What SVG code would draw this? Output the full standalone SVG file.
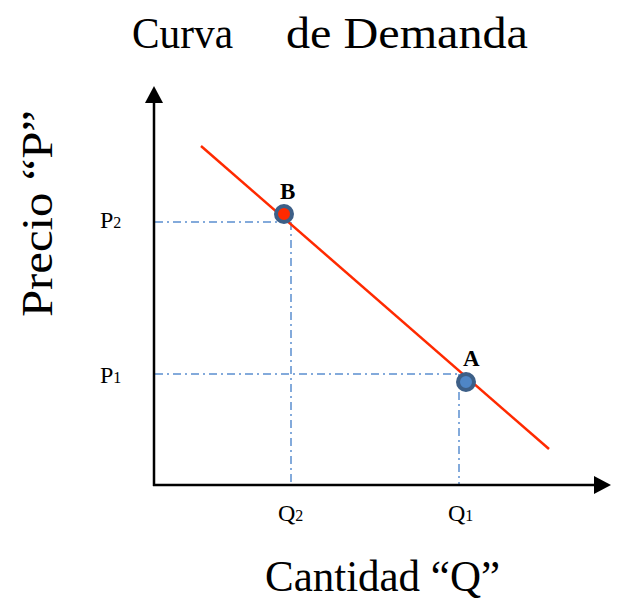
<svg xmlns="http://www.w3.org/2000/svg" width="618" height="603" viewBox="0 0 618 603">
<style>
.t{font-family:"Liberation Serif","DejaVu Serif",serif;fill:#000}
.big{font-size:45px}
.lab{font-size:24px}
.sub{font-size:16px}
.pt{font-size:23px;font-weight:bold}
.axis{stroke:#000;stroke-width:2.5;fill:none}
.guide{stroke:#5b8fd0;stroke-width:1.5;stroke-dasharray:8,4,2,4;fill:none}
.curve{stroke:#ff2a00;stroke-width:2.5}
</style>
<rect width="618" height="603" fill="#fff"/>
<g id="title">
<text class="t big" x="132" y="48" textLength="101" lengthAdjust="spacingAndGlyphs">Curva</text>
<text class="t big" x="286" y="48" textLength="242" lengthAdjust="spacingAndGlyphs">de Demanda</text>
</g>
<text id="ylabel" class="t big" transform="translate(52,317) rotate(-90)" textLength="207" lengthAdjust="spacingAndGlyphs">Precio “P”</text>
<text id="xlabel" class="t big" x="265" y="591" textLength="235" lengthAdjust="spacingAndGlyphs">Cantidad “Q”</text>
<g id="connectors">
<line class="guide" x1="155" y1="222" x2="290" y2="222"/>
<line class="guide" x1="291" y1="222" x2="291" y2="484"/>
<line class="guide" x1="155" y1="374" x2="459" y2="374"/>
<line class="guide" x1="459" y1="374" x2="459" y2="484"/>
<line class="curve" x1="201" y1="146" x2="549" y2="449"/>
<g id="axes">
<path class="axis" d="M154,486 L154,98"/>
<path d="M145,103 L154,86 L163,103 z" fill="#000"/>
<path class="axis" d="M153,485 L596,485"/>
<path d="M594,476 L611,485 L594,494 z" fill="#000"/>
</g>
</g>
<g id="pointB">
<circle cx="284" cy="214" r="8" fill="#ff2a00" stroke="#3d5f87" stroke-width="4"/>
<text class="t pt" x="280" y="199">B</text>
</g>
<g id="pointA">
<circle cx="466" cy="382" r="8" fill="#4f86c6" stroke="#3d5f87" stroke-width="4"/>
<text class="t pt" x="463" y="366">A</text>
</g>
<g id="labels">
<text class="t lab" x="100" y="228">P<tspan class="sub">2</tspan></text>
<text class="t lab" x="100" y="383">P<tspan class="sub">1</tspan></text>
<text class="t lab" x="278" y="521">Q<tspan class="sub">2</tspan></text>
<text class="t lab" x="448" y="521">Q<tspan class="sub">1</tspan></text>
</g>
</svg>
